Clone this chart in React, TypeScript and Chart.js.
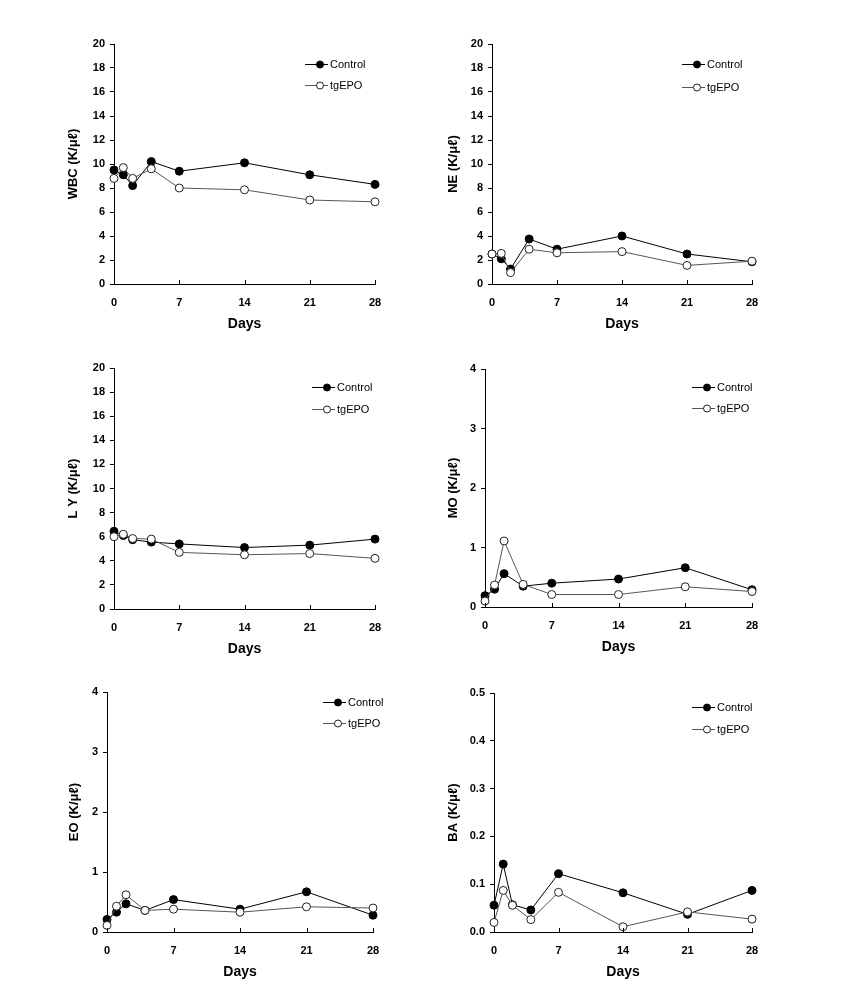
import React, { useEffect, useRef } from "react";
import { Chart, registerables } from "chart.js";

Chart.register(...registerables);

const days = [0, 1, 2, 4, 7, 14, 21, 28];
const xTicks = [0, 7, 14, 21, 28];
const seriesNames = ["Control", "tgEPO"];

const wbcControl = [9.5, 9.1, 8.2, 10.2, 9.4, 10.1, 9.1, 8.3];
const wbcTgEPO = [8.8, 9.7, 8.8, 9.6, 8.0, 7.85, 7.0, 6.85];

const neControl = [2.5, 2.1, 1.25, 3.75, 2.9, 4.0, 2.5, 1.85];
const neTgEPO = [2.5, 2.55, 0.95, 2.9, 2.6, 2.7, 1.55, 1.9];

const lyControl = [6.45, 6.1, 5.75, 5.55, 5.4, 5.1, 5.3, 5.8];
const lyTgEPO = [6.0, 6.2, 5.85, 5.8, 4.7, 4.5, 4.6, 4.2];

const moControl = [0.19, 0.3, 0.56, 0.35, 0.4, 0.47, 0.66, 0.29];
const moTgEPO = [0.1, 0.37, 1.11, 0.38, 0.21, 0.21, 0.34, 0.26];

const eoControl = [0.21, 0.33, 0.47, 0.36, 0.54, 0.38, 0.67, 0.28];
const eoTgEPO = [0.11, 0.43, 0.62, 0.36, 0.38, 0.33, 0.42, 0.4];

const baControl = [0.056, 0.142, 0.057, 0.046, 0.122, 0.082, 0.037, 0.087];
const baTgEPO = [0.02, 0.087, 0.056, 0.026, 0.083, 0.011, 0.042, 0.027];

const FONT = "'Liberation Sans', Arial, sans-serif";

type Panel = {
  title: string;
  control: number[];
  tg: number[];
  yMax: number;
  yStep: number;
  decimals: number;
  L: number; T: number; R: number; B: number;
  titleX: number;
  legX: number; legY1: number; legY2: number;
};

const panels: Panel[] = [
  { title: "WBC (K/\u03bc\u2113)", control: wbcControl, tg: wbcTgEPO, yMax: 20, yStep: 2, decimals: 0,
    L: 114, T: 44, R: 375, B: 284, titleX: 73, legX: 305, legY1: 64, legY2: 85 },
  { title: "NE (K/\u03bc\u2113)", control: neControl, tg: neTgEPO, yMax: 20, yStep: 2, decimals: 0,
    L: 492, T: 44, R: 752, B: 284, titleX: 453, legX: 682, legY1: 64, legY2: 87 },
  { title: "L Y (K/\u03bc\u2113)", control: lyControl, tg: lyTgEPO, yMax: 20, yStep: 2, decimals: 0,
    L: 114, T: 368, R: 375, B: 609, titleX: 73, legX: 312, legY1: 387, legY2: 409 },
  { title: "MO (K/\u03bc\u2113)", control: moControl, tg: moTgEPO, yMax: 4, yStep: 1, decimals: 0,
    L: 485, T: 369, R: 752, B: 607, titleX: 453, legX: 692, legY1: 387, legY2: 408 },
  { title: "EO (K/\u03bc\u2113)", control: eoControl, tg: eoTgEPO, yMax: 4, yStep: 1, decimals: 0,
    L: 107, T: 692, R: 373, B: 932, titleX: 74, legX: 323, legY1: 702, legY2: 723 },
  { title: "BA (K/\u03bc\u2113)", control: baControl, tg: baTgEPO, yMax: 0.5, yStep: 0.1, decimals: 1,
    L: 494, T: 693, R: 752, B: 932, titleX: 453, legX: 692, legY1: 707, legY2: 729 },
];

const PAD_L = 60;
const PAD_T = 14;
const PAD_R = 25;
const PAD_B = 55;

function PanelChart({ p }: { p: Panel }) {
  const ref = useRef<HTMLCanvasElement | null>(null);
  const cl = p.L - PAD_L;
  const ct = p.T - PAD_T;
  const cw = p.R + PAD_R - cl;
  const ch = p.B + PAD_B - ct;

  useEffect(() => {
    if (!ref.current) return;
    const titleLH = 13 * 1.2;
    const yTitlePad = PAD_L - titleLH / 2 - (p.L - p.titleX);
    const legendPlugin = {
      id: "customLegendTicks",
      afterDatasetsDraw(chart: any) {
        const ctx = chart.ctx;
        const xs = chart.scales.x;
        const area = chart.chartArea;
        ctx.save();
        // inward x ticks
        ctx.strokeStyle = "#000";
        ctx.lineWidth = 1;
        xTicks.forEach((t) => {
          const x = Math.round(xs.getPixelForValue(t)) + 0.5;
          ctx.beginPath();
          ctx.moveTo(x, area.bottom);
          ctx.lineTo(x, area.bottom - 4);
          ctx.stroke();
        });
        // legend
        const rows = [
          { y: p.legY1 - ct, fill: "#000", stroke: "#000", line: "#000", name: seriesNames[0] },
          { y: p.legY2 - ct, fill: "#fff", stroke: "#222", line: "#555", name: seriesNames[1] },
        ];
        const lx = p.legX - cl;
        rows.forEach((r) => {
          ctx.strokeStyle = r.line;
          ctx.lineWidth = 1;
          ctx.beginPath();
          ctx.moveTo(lx, r.y + 0.5);
          ctx.lineTo(lx + 23, r.y + 0.5);
          ctx.stroke();
          ctx.beginPath();
          ctx.arc(lx + 15, r.y + 0.5, 3.5, 0, Math.PI * 2);
          ctx.fillStyle = r.fill;
          ctx.fill();
          ctx.strokeStyle = r.stroke;
          ctx.stroke();
          ctx.fillStyle = "#000";
          ctx.font = `11px ${FONT}`;
          ctx.textBaseline = "middle";
          ctx.textAlign = "left";
          ctx.fillText(r.name, lx + 25, r.y + 1);
        });
        ctx.restore();
      },
    };

    const chart = new Chart(ref.current, {
      type: "line",
      data: {
        datasets: [
          {
            label: seriesNames[1],
            data: days.map((d, i) => ({ x: d, y: p.tg[i] })),
            borderColor: "#555",
            borderWidth: 1,
            pointBackgroundColor: "#fff",
            pointBorderColor: "#222",
            pointBorderWidth: 1,
            pointRadius: 4,
            tension: 0,
            clip: false as any,
          },
          {
            label: seriesNames[0],
            data: days.map((d, i) => ({ x: d, y: p.control[i] })),
            borderColor: "#000",
            borderWidth: 1,
            pointBackgroundColor: "#000",
            pointBorderColor: "#000",
            pointBorderWidth: 1,
            pointRadius: 4,
            tension: 0,
            clip: false as any,
          },
        ],
      },
      options: {
        responsive: false,
        animation: false,
        events: [],
        layout: { padding: { left: 0, top: PAD_T, right: PAD_R, bottom: 0 } },
        plugins: { legend: { display: false }, tooltip: { enabled: false } },
        scales: {
          x: {
            type: "linear",
            min: 0,
            max: 28,
            afterBuildTicks: (s: any) => { s.ticks = xTicks.map((v) => ({ value: v })); },
            afterFit: (s: any) => { s.height = PAD_B; },
            grid: { display: false, drawTicks: false },
            border: { display: true, color: "#000", width: 1 },
            ticks: { color: "#000", padding: 12, font: { family: FONT, size: 11, weight: "bold" }, maxRotation: 0 },
            title: {
              display: true,
              text: "Days",
              color: "#000",
              font: { family: FONT, size: 14, weight: "bold" },
              padding: { top: 0, bottom: PAD_B - 40 - 8.4 },
            },
          },
          y: {
            type: "linear",
            min: 0,
            max: p.yMax,
            ticks: {
              stepSize: p.yStep,
              color: "#000",
              padding: 5,
              font: { family: FONT, size: 11, weight: "bold" },
              callback: (v: any) => Number(v).toFixed(p.decimals),
            },
            afterFit: (s: any) => { s.width = PAD_L; },
            grid: { display: true, drawOnChartArea: false, drawTicks: true, tickLength: 4, color: "#000" },
            border: { display: true, color: "#000", width: 1 },
            title: {
              display: true,
              text: p.title,
              color: "#000",
              font: { family: FONT, size: 13, weight: "bold" },
              padding: { top: yTitlePad, bottom: 0 },
            },
          },
        },
      } as any,
      plugins: [legendPlugin],
    });
    return () => chart.destroy();
  }, []);

  return (
    <canvas
      ref={ref}
      width={cw}
      height={ch}
      style={{ position: "absolute", left: cl, top: ct, width: cw, height: ch }}
    />
  );
}

export default function App() {
  return (
    <div style={{ position: "absolute", left: 0, top: 0, width: 865, height: 1001, background: "#fff" }}>
      {panels.map((p, i) => (
        <PanelChart key={i} p={p} />
      ))}
    </div>
  );
}
